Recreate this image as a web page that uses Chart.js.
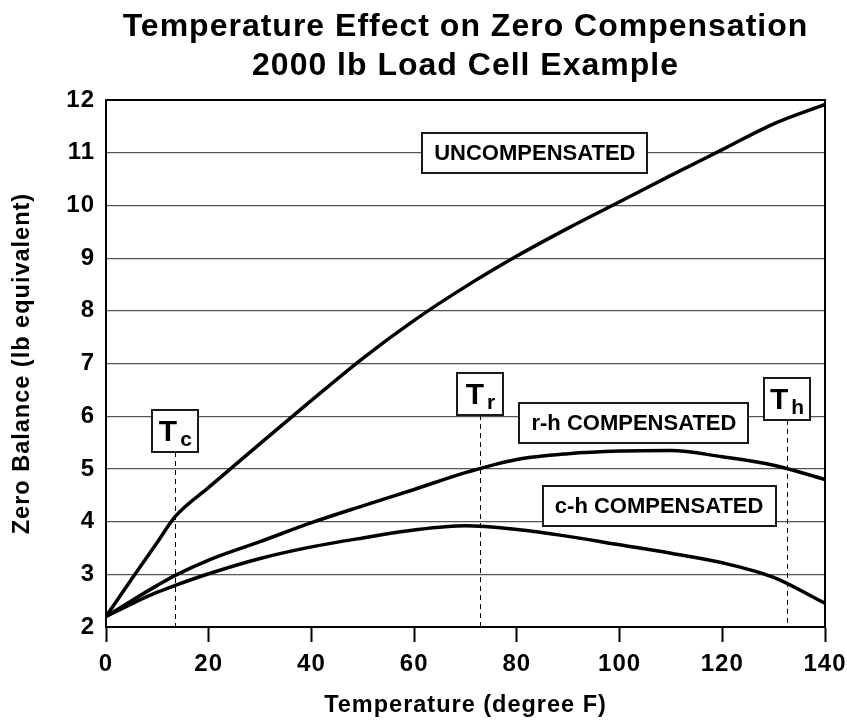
<!DOCTYPE html>
<html>
<head>
<meta charset="utf-8">
<title>Temperature Effect on Zero Compensation</title>
<script src="https://cdn.jsdelivr.net/npm/chart.js@4.4.0/dist/chart.umd.min.js"></script>
<style>
	html, body { margin:0; padding:0; background:#fff; }
	#wrap { width:847px; height:723px; }
</style>
</head>
<body>
<div id="wrap"><canvas id="zeroChart" width="847" height="723"></canvas></div>
<script>
// values (degree F / lb equivalent)
const temperature   = [0, 5, 10, 13.5, 20, 30, 40, 50, 60, 70, 80, 90, 100, 110, 120, 130, 140];
const uncompensated = [2.2, 2.91, 3.61, 4.1, 4.65, 5.48, 6.3, 7.1, 7.82, 8.46, 9.04, 9.57, 10.07, 10.57, 11.06, 11.55, 11.92];
const rhCompensated = [2.2, 2.5, 2.79, 2.98, 3.27, 3.62, 3.98, 4.3, 4.61, 4.93, 5.18, 5.29, 5.34, 5.35, 5.23, 5.07, 4.8];
const chCompensated = [2.2, 2.44, 2.66, 2.79, 3.01, 3.3, 3.52, 3.69, 3.84, 3.92, 3.85, 3.72, 3.56, 3.4, 3.22, 2.94, 2.45];

const xTicks = [0, 20, 40, 60, 80, 100, 120, 140];
const yTicks = [2, 3, 4, 5, 6, 7, 8, 9, 10, 11, 12];

// Tc, Tr, Th
const markerTemps = [13.5, 72.9, 132.6];
const markerSubs  = ['c', 'r', 'h'];

const FONT = "'Liberation Sans', Arial, Helvetica, sans-serif";

// where the boxed texts sit (data units)
const seriesBoxes = [
	{text: 'UNCOMPENSATED',   x: 83.5,  y: 10.99},
	{text: 'r-h COMPENSATED', x: 102.8, y: 5.87},
	{text: 'c-h COMPENSATED', x: 107.7, y: 4.29}
];
const markerBoxY = [5.72, 6.42, 6.33];

function toPoints(ys){
	return temperature.map(function(t, i){ return {x: t, y: ys[i]}; });
}

// the reference type is a bit wider set than Liberation Sans
const spacing = {
	id: 'spacing',
	beforeLayout(chart){ chart.ctx.letterSpacing = '1px'; },
	beforeDraw(chart){ chart.ctx.letterSpacing = '1px'; }
};

const annotate = {
	id: 'annotate',
	beforeDatasetsDraw(chart){
		const {ctx, chartArea, scales} = chart;
		ctx.save();
		ctx.strokeStyle = '#000';
		ctx.lineWidth = 1;
		ctx.setLineDash([5, 4]);
		markerTemps.forEach(function(t, i){
			const px = Math.round(scales.x.getPixelForValue(t)) + 0.5;
			const py = scales.y.getPixelForValue(markerBoxY[i]) + 21;
			ctx.beginPath();
			ctx.moveTo(px, py);
			ctx.lineTo(px, chartArea.bottom);
			ctx.stroke();
		});
		ctx.restore();
	},
	afterDatasetsDraw(chart){
		const {ctx, chartArea, scales} = chart;
		ctx.save();
		ctx.letterSpacing = '0px';
		// top and right side of the frame
		ctx.strokeStyle = '#000';
		ctx.lineWidth = 2;
		ctx.beginPath();
		ctx.moveTo(chartArea.left, chartArea.top);
		ctx.lineTo(chartArea.right, chartArea.top);
		ctx.lineTo(chartArea.right, chartArea.bottom);
		ctx.stroke();

		ctx.strokeStyle = '#1a1a1a';
		ctx.fillStyle = '#000';

		// series name boxes
		ctx.font = 'bold 22px ' + FONT;
		ctx.textAlign = 'center';
		ctx.textBaseline = 'middle';
		seriesBoxes.forEach(function(b){
			const cx = scales.x.getPixelForValue(b.x);
			const cy = scales.y.getPixelForValue(b.y);
			const w = Math.round(ctx.measureText(b.text).width + 24);
			const h = 40;
			const x0 = Math.round(cx - w / 2), y0 = Math.round(cy - h / 2);
			ctx.fillStyle = '#fff';
			ctx.fillRect(x0, y0, w, h);
			ctx.strokeRect(x0, y0, w, h);
			ctx.fillStyle = '#000';
			ctx.fillText(b.text, cx, cy + 1);
		});

		// T with subscript boxes
		ctx.textAlign = 'left';
		ctx.textBaseline = 'alphabetic';
		markerTemps.forEach(function(t, i){
			const cx = scales.x.getPixelForValue(t);
			const cy = scales.y.getPixelForValue(markerBoxY[i]);
			const w = 46, h = 42;
			const x0 = Math.round(cx - w / 2), y0 = Math.round(cy - h / 2);
			ctx.fillStyle = '#fff';
			ctx.fillRect(x0, y0, w, h);
			ctx.strokeRect(x0, y0, w, h);
			ctx.fillStyle = '#000';
			ctx.font = 'bold 30px ' + FONT;
			const wT = ctx.measureText('T').width;
			ctx.font = 'bold 21px ' + FONT;
			const wS = ctx.measureText(markerSubs[i]).width;
			const start = cx - (wT + 3 + wS) / 2;
			ctx.font = 'bold 30px ' + FONT;
			ctx.fillText('T', start, cy + 10);
			ctx.font = 'bold 21px ' + FONT;
			ctx.fillText(markerSubs[i], start + wT + 3, cy + 15);
		});
		ctx.restore();
	}
};

function lineSet(label, ys){
	return {
		label: label,
		data: toPoints(ys),
		borderColor: '#000',
		borderWidth: 3.5,
		pointRadius: 0,
		fill: false,
		cubicInterpolationMode: 'monotone'
	};
}

function chartData(ctx){
	Chart.defaults.font.family = FONT;
	Chart.defaults.color = '#000';
	const chart = new Chart(ctx, {
		type: 'line',
		data: {
			datasets: [
				lineSet('UNCOMPENSATED', uncompensated),
				lineSet('r-h COMPENSATED', rhCompensated),
				lineSet('c-h COMPENSATED', chCompensated)
			]
		},
		options: {
			responsive: false,
			animation: false,
			devicePixelRatio: 1,
			layout: { padding: {left: 0, right: 22, top: 0, bottom: 0} },
			plugins: {
				legend: { display: false },
				tooltip: { enabled: false },
				title: {
					display: true,
					fullSize: false,
					text: ['Temperature Effect on Zero Compensation', '2000 lb Load Cell Example'],
					font: { size: 32, weight: 'bold', lineHeight: 1.22 },
					color: '#000',
					padding: { top: 8, bottom: 14 }
				}
			},
			scales: {
				x: {
					type: 'linear',
					min: 0, max: 140,
					afterBuildTicks: function(s){ s.ticks = xTicks.map(function(v){ return {value: v}; }); },
					afterFit: function(s){ s.height = 96; s.paddingLeft = 0; s.paddingRight = 0; },
					grid: { drawOnChartArea: false, tickLength: 15, tickWidth: 2, tickColor: '#000' },
					border: { display: true, width: 2, color: '#000' },
					ticks: { font: { size: 24, weight: 'bold' }, padding: 8, color: '#000', maxRotation: 0 },
					title: {
						display: true,
						text: 'Temperature (degree F)',
						font: { size: 23.5, weight: 'bold' },
						padding: { top: 4, bottom: 3 }
					}
				},
				y: {
					type: 'linear',
					min: 2, max: 12,
					afterBuildTicks: function(s){ s.ticks = yTicks.map(function(v){ return {value: v}; }); },
					afterFit: function(s){ s.width = 106; },
					grid: { drawTicks: false, color: '#555', lineWidth: 1.3 },
					border: { display: true, width: 2, color: '#000' },
					ticks: { font: { size: 24, weight: 'bold' }, padding: 11, color: '#000' },
					title: {
						display: true,
						text: 'Zero Balance (lb equivalent)',
						font: { size: 23.5, weight: 'bold' },
						padding: { top: 8, bottom: 4 }
					}
				}
			}
		},
		plugins: [spacing, annotate]
	});
	return chart;
}

function renderChart(){
	const zero_chart = document.querySelector('#zeroChart').getContext('2d');
	chartData(zero_chart);
}

renderChart();
</script>
</body>
</html>
